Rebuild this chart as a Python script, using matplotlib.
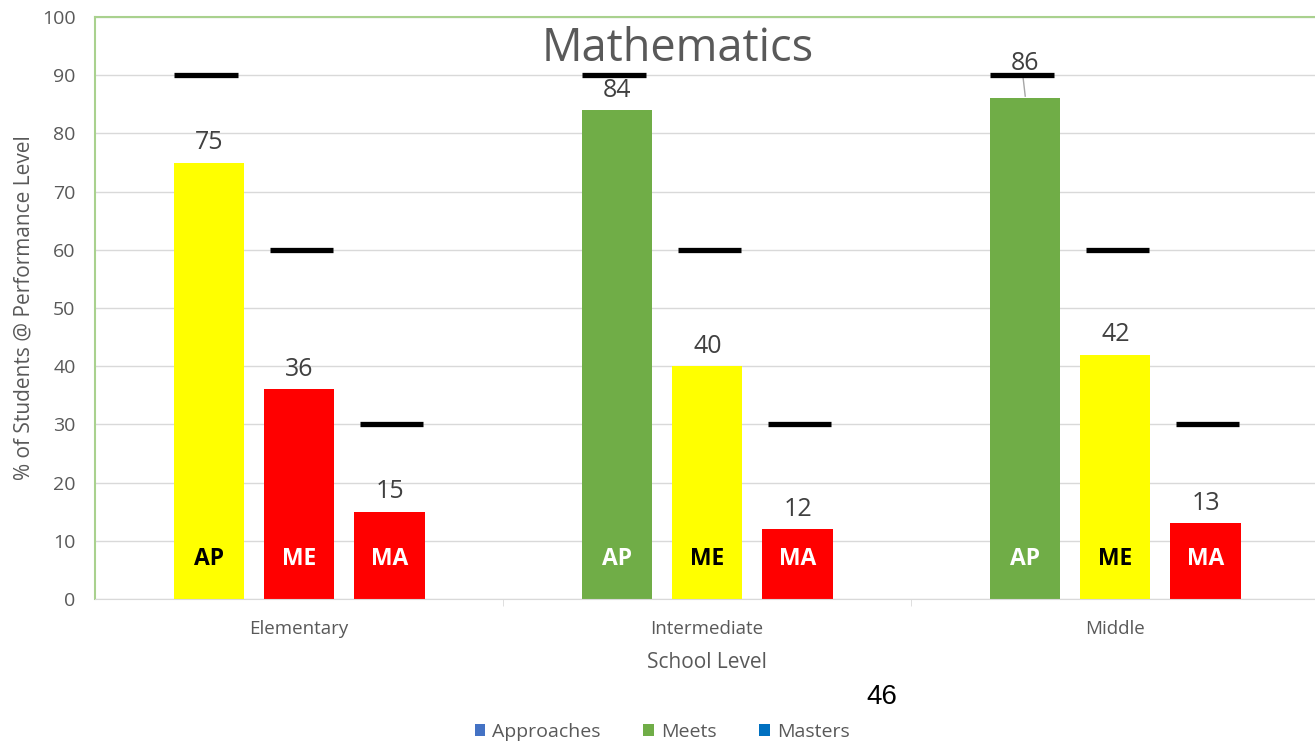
import matplotlib
matplotlib.use("Agg")
import matplotlib.pyplot as plt
from matplotlib.patches import Patch
import numpy as np

plt.rcParams["font.family"] = ["Open Sans", "DejaVu Sans"]

# ---------------------------------------------------------------------------
# Data
# ---------------------------------------------------------------------------
school_levels = ["Elementary", "Intermediate", "Middle"]
bar_codes = ["AP", "ME", "MA"]
values = {
    "Elementary": [75, 36, 15],
    "Intermediate": [84, 40, 12],
    "Middle": [86, 42, 13],
}
bar_colours = {
    "Elementary": ["#FFFF00", "#FF0000", "#FF0000"],
    "Intermediate": ["#70AD47", "#FFFF00", "#FF0000"],
    "Middle": ["#70AD47", "#FFFF00", "#FF0000"],
}
targets = [90, 60, 30]
legend_names = ["Approaches", "Meets", "Masters"]
legend_colours = ["#4472C4", "#70AD47", "#0070C0"]

_GREY = "#595959"
_LABEL = "#404040"

bar_offsets = [-0.221, 0.001, 0.222]
target_offsets = [-0.228, 0.006, 0.227]
bar_w = 0.172
target_w = 0.155

fig = plt.figure(figsize=(13.15, 7.41), dpi=100)
ax = fig.add_axes([95 / 1315, 1 - 599 / 741, 1224 / 1315, 582 / 741])

for i, lvl in enumerate(school_levels):
    for j, code in enumerate(bar_codes):
        x = i + bar_offsets[j]
        v = values[lvl][j]
        c = bar_colours[lvl][j]
        ax.bar(x, v, width=bar_w, color=c, zorder=2)
        txt_col = "black" if c == "#FFFF00" else "white"
        ax.text(x, 6.8, code, ha="center", va="center", fontsize=16.5,
                fontweight="bold", color=txt_col, zorder=4)
        # value label (Middle AP pushed above its target line)
        if lvl == "Middle" and j == 0:
            ax.text(x, v + 6.0, f"{v}", ha="center", va="center",
                    fontsize=18, color=_LABEL, zorder=4)
            ax.plot([x - 0.005, x + 0.001], [v + 4.0, v + 0.4],
                    color="#A6A6A6", lw=1, zorder=3)
        else:
            ax.text(x, v + 3.4, f"{v}", ha="center", va="center",
                    fontsize=18, color=_LABEL, zorder=4)
        tx = i + target_offsets[j]
        ax.hlines(targets[j], tx - target_w / 2, tx + target_w / 2,
                  color="black", lw=3.8, zorder=3)

ax.set_xlim(-0.5, 2.5)
ax.set_ylim(0, 100)
ax.set_yticks(np.arange(0, 101, 10))
ax.yaxis.grid(True, color="#D9D9D9", lw=1, zorder=0)
ax.set_axisbelow(True)

ax.set_xticks(range(len(school_levels)))
ax.set_xticklabels(school_levels, fontsize=13.5, color=_GREY)
ax.tick_params(axis="x", length=0, pad=15)
ax.set_xticks([0.5, 1.5], minor=True)
ax.tick_params(axis="x", which="minor", length=5, color="#D9D9D9")
ax.tick_params(axis="y", length=0, labelsize=14, labelcolor=_GREY, pad=14)

for s in ["left", "top"]:
    ax.spines[s].set_color("#A9D18E")
    ax.spines[s].set_linewidth(1.5)
ax.spines["right"].set_visible(False)
ax.spines["bottom"].set_color("#D9D9D9")

ax.set_ylabel("% of Students @ Performance Level", fontsize=15, color=_GREY,
              labelpad=5)
ax.set_xlabel("School Level", fontsize=15, color=_GREY, labelpad=10)

ax.text(0.476, 0.945, "Mathematics", transform=ax.transAxes, ha="center",
        va="center", fontsize=32.5, color=_GREY)

fig.text(882 / 1315, 1 - 697 / 741, "46", ha="center", va="center",
         fontsize=20, family="Liberation Sans", color="black")

handles = [Patch(facecolor=c, edgecolor="none") for c in legend_colours]
fig.legend(handles, legend_names, loc="center", ncol=3, frameon=False,
           bbox_to_anchor=(662 / 1315, 1 - 732 / 741), fontsize=14,
           labelcolor=_GREY, handlelength=0.55, handleheight=0.55,
           handletextpad=0.35, columnspacing=2.2)

fig.savefig("out.png", dpi=100)
